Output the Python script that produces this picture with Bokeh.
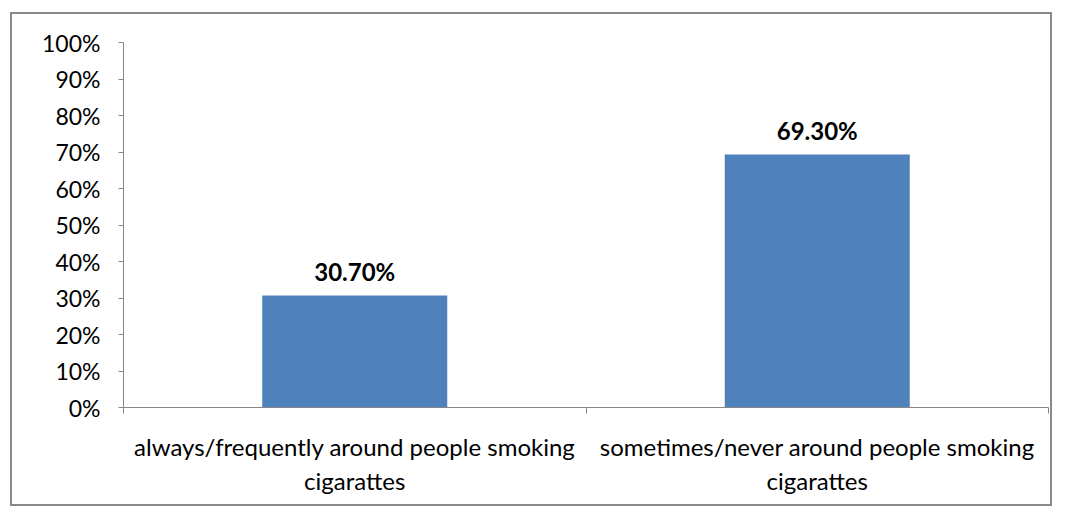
from bokeh.plotting import figure
from bokeh.models import ColumnDataSource, FixedTicker, NumeralTickFormatter, Range1d
from bokeh.core.properties import value
from bokeh.embed import file_html
from bokeh.resources import INLINE

categories = ["always/frequently around people smoking\ncigarattes",
              "sometimes/never around people smoking\ncigarattes"]
values = [0.307, 0.693]
value_labels = ["30.70%", "69.30%"]
y_ticks = [0.0, 0.1, 0.2, 0.3, 0.4, 0.5, 0.6, 0.7, 0.8, 0.9, 1.0]

FONT = "Lato"
GRAY = "#868686"

xs = [i + 0.5 for i in range(len(categories))]
src = ColumnDataSource(dict(x=xs, top=values, lab=value_labels))

p = figure(frame_width=925, frame_height=365, output_backend="svg", toolbar_location=None,
           x_range=Range1d(0, len(categories)), y_range=Range1d(0, 1),
           min_border_left=111, min_border_top=28, min_border_right=2, min_border_bottom=97,
           margin=(12, 0, 0, 10))
p.styles = {"border": "2px solid #898989"}
p.outline_line_color = None
p.xgrid.visible = False
p.ygrid.visible = False

p.vbar(x="x", top="top", width=0.4, source=src, fill_color="#4F81BD", line_color=None)
p.text(x="x", y="top", text="lab", source=src, text_align="center", text_baseline="middle",
       y_offset=-24, text_font=value(FONT), text_font_style="bold", text_font_size="24px",
       text_color="#000000")

# x axis: ticks at category boundaries, labels at centers
p.xaxis.ticker = FixedTicker(ticks=xs, minor_ticks=list(range(len(categories) + 1)))
p.xaxis.major_label_overrides = {x: c for x, c in zip(xs, categories)}
p.xaxis.major_tick_out = 0
p.xaxis.major_tick_in = 0
p.xaxis.minor_tick_out = 6
p.xaxis.minor_tick_in = 0
p.xaxis.minor_tick_line_color = GRAY
p.xaxis.axis_line_color = GRAY
p.xaxis.major_label_text_font = FONT
p.xaxis.major_label_text_font_size = "24px"
p.xaxis.major_label_text_color = "#000000"
p.xaxis.major_label_standoff = 18

p.yaxis.ticker = FixedTicker(ticks=y_ticks, minor_ticks=[])
p.yaxis.formatter = NumeralTickFormatter(format="0%")
p.yaxis.major_tick_out = 5
p.yaxis.major_tick_in = 0
p.yaxis.major_tick_line_color = GRAY
p.yaxis.axis_line_color = GRAY
p.yaxis.major_label_text_font = FONT
p.yaxis.major_label_text_font_size = "23px"
p.yaxis.major_label_text_color = "#000000"
p.yaxis.major_label_standoff = 18

open("out.html", "w").write(file_html(p, INLINE))
